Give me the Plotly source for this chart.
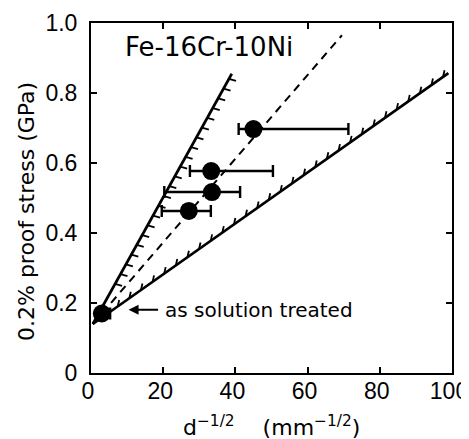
import numpy as np
import plotly.graph_objects as go

# ---------------- data ----------------
# measured points: d^-1/2 (mm^-1/2) and 0.2% proof stress (GPa)
pt_x = [3.0, 27.1, 33.5, 33.3, 45.0]
pt_y = [0.170, 0.463, 0.517, 0.577, 0.697]
err_lo = [1.9, 19.6, 20.3, 27.4, 40.9]   # left end of bar
err_hi = [5.3, 33.2, 41.3, 50.4, 71.3]   # right end of bar

# bounding lines (start / end)
steep_x = [0.5, 39.0]
steep_y = [0.140, 0.855]
dash_x = [0.5, 69.5]
dash_y = [0.140, 0.965]
low_x = [0.5, 99.0]
low_y = [0.140, 0.857]

x_ticks = [0, 20, 40, 60, 80, 100]
y_ticks = [0, 0.2, 0.4, 0.6, 0.8, 1.0]
y_ticktext = ["0", "0.2", "0.4", "0.6", "0.8", "1.0"]

label_alloy = "Fe-16Cr-10Ni"
label_st = "as solution treated"
x_title = "d<sup>\u22121/2</sup>    (mm<sup>\u22121/2</sup>)"
y_title = "0.2% proof stress (GPa)"

# ---------------- layout geometry ----------------
# the page body adds an 8px margin, so the figure is 8px smaller
W, H = 461, 431
ML, MR, MT, MB = 83, 17, 15, 66
PW, PH = W - ML - MR, H - MT - MB
XR, YR = [0, 100], [0, 1.0]
px_x = PW / (XR[1] - XR[0])  # px per x unit
px_y = PH / (YR[1] - YR[0])  # px per y unit

FONT = "Liberation Sans"
FONT2 = "DejaVu Sans"


def hatch(xs, ys, f0, f1, n, dpx, dpy):
    """short tick segments along a line, offset given in pixels"""
    t = np.linspace(f0, f1, n)
    hx, hy = [], []
    for ti in t:
        x0 = xs[0] + (xs[1] - xs[0]) * ti
        y0 = ys[0] + (ys[1] - ys[0]) * ti
        hx += [x0, x0 + dpx / px_x, None]
        hy += [y0, y0 - dpy / px_y, None]
    return hx, hy


fig = go.Figure()

line_style = dict(color="black", width=2.7)
fig.add_trace(go.Scatter(x=steep_x, y=steep_y, mode="lines", line=line_style, hoverinfo="skip"))
fig.add_trace(go.Scatter(x=low_x, y=low_y, mode="lines", line=line_style, hoverinfo="skip"))
fig.add_trace(go.Scatter(x=dash_x, y=dash_y, mode="lines",
                         line=dict(color="black", width=2, dash="8px,6px"), hoverinfo="skip"))

# hatching on the inner sides of the solid lines
hx, hy = hatch(steep_x, steep_y, 0.16, 0.98, 22, 7, 2)
fig.add_trace(go.Scatter(x=hx, y=hy, mode="lines", line=dict(color="black", width=1.8), hoverinfo="skip"))
hx, hy = hatch(low_x, low_y, 0.07, 0.985, 29, 1.5, -6.5)
fig.add_trace(go.Scatter(x=hx, y=hy, mode="lines", line=dict(color="black", width=1.8), hoverinfo="skip"))

# data points with horizontal error bars
fig.add_trace(go.Scatter(
    x=pt_x, y=pt_y, mode="markers",
    marker=dict(color="black", size=18, symbol="circle"),
    error_x=dict(type="data", symmetric=False,
                 array=[h - x for h, x in zip(err_hi, pt_x)],
                 arrayminus=[x - l for l, x in zip(err_lo, pt_x)],
                 color="black", thickness=2.4, width=6),
    hoverinfo="skip"))

axis_common = dict(
    showline=True, linecolor="black", linewidth=2, mirror="ticks",
    ticks="inside", ticklen=6, tickwidth=2, tickcolor="black",
    showgrid=False, zeroline=False, automargin=False,
    ticklabeloverflow="allow",
    tickfont=dict(family=FONT, size=23, color="black"),
)

fig.update_layout(
    width=W, height=H,
    margin=dict(l=ML, r=MR, t=MT, b=MB, autoexpand=False),
    paper_bgcolor="white", plot_bgcolor="white",
    showlegend=False,
    xaxis=dict(range=XR, tickvals=x_ticks, ticklabelstandoff=-4, ticklabelshift=-3,
               **axis_common),
    yaxis=dict(range=YR, tickvals=y_ticks, ticktext=y_ticktext, ticklabelstandoff=7,
               **axis_common),
)

# axis titles
fig.add_annotation(x=0.5, y=0, xref="paper", yref="paper", yshift=-53, text=x_title,
                   showarrow=False, xanchor="center", yanchor="middle",
                   font=dict(family=FONT2, size=22, color="black"))
fig.add_annotation(x=0, y=0.46, xref="paper", yref="paper", xshift=-65, text=y_title,
                   showarrow=False, textangle=-90, xanchor="center", yanchor="middle",
                   font=dict(family=FONT2, size=22, color="black"))

fig.add_annotation(x=8.9, y=0.931, xref="x", yref="y", text=label_alloy, showarrow=False,
                   xanchor="left", yanchor="middle",
                   font=dict(family=FONT2, size=26, color="black"))

# arrow pointing to the as-solution-treated point
fig.add_annotation(x=10.4, y=0.181, xref="x", yref="y", ax=19.0, ay=0.181,
                   axref="x", ayref="y", text="", showarrow=True,
                   arrowhead=2, arrowsize=1, arrowwidth=2, arrowcolor="black")
fig.add_annotation(x=19.9, y=0.181, xref="x", yref="y", text=label_st, showarrow=False,
                   xanchor="left", yanchor="middle",
                   font=dict(family=FONT2, size=20, color="black"))

fig.write_html("out.html")
